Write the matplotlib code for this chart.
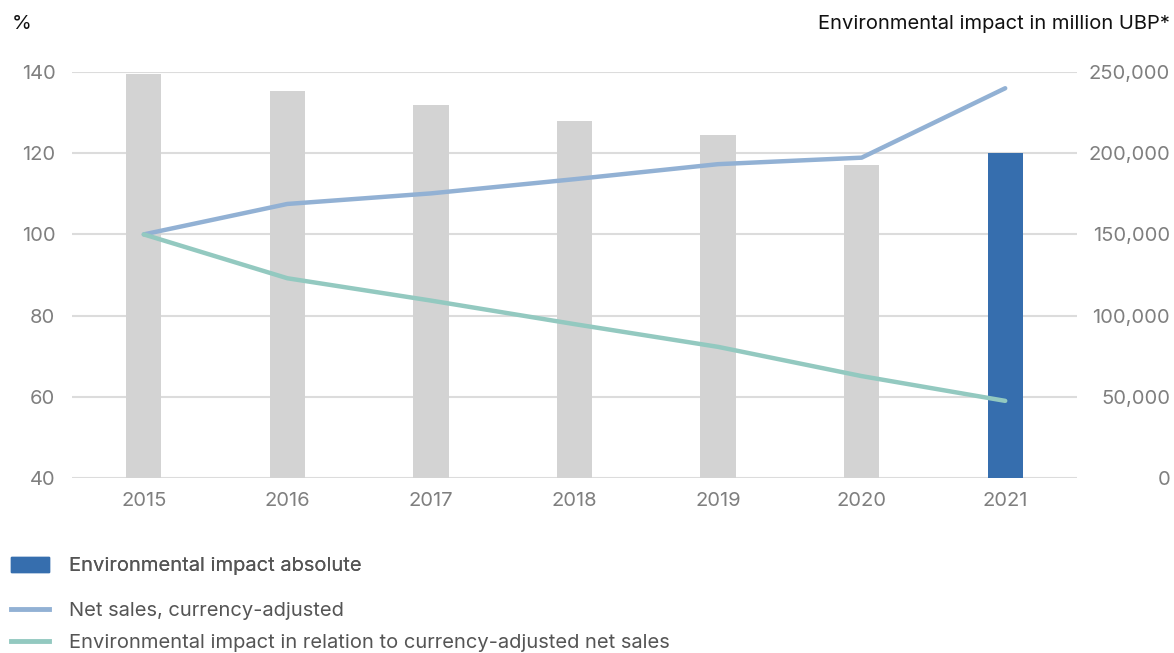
import numpy as np
import matplotlib
matplotlib.use("Agg")
import matplotlib.pyplot as plt
from matplotlib.patches import Patch
from matplotlib.lines import Line2D
from matplotlib.ticker import FuncFormatter

plt.rcParams['font.family'] = ['Inter', 'DejaVu Sans']

# data
years = ['2015', '2016', '2017', '2018', '2019', '2020', '2021']
impact_abs = [248500, 238300, 229700, 219800, 211200, 192700, 200000]   # million UBP
net_sales = [100, 107.5, 110.1, 113.6, 117.3, 118.9, 136.0]             # %
impact_rel = [100, 89.2, 83.7, 77.9, 72.3, 65.1, 59.0]                  # %

grey_bar = '#d3d3d3'
blue_bar = '#366eae'
sales_col = '#92b1d4'
rel_col = '#93c9c0'
tick_col = '#7f7f7f'
grid_col = '#dcdcdc'
fs = 14.5

fig = plt.figure(figsize=(11.74, 6.53), dpi=100)
ax = fig.add_axes([72/1174, 175/653, 1005/1174, 406/653])

x = np.arange(len(years))
colors = [grey_bar] * (len(years) - 1) + [blue_bar]
ax.bar(x, impact_abs, width=0.245, color=colors, zorder=2)
ax.set_ylim(0, 250000)
ax.set_xlim(-0.5, len(years) - 0.5)
ax.set_yticks(np.arange(0, 250001, 50000))
ax.yaxis.set_major_formatter(FuncFormatter(lambda v, p: f'{int(v):,}'))
ax.grid(axis='y', color=grid_col, linewidth=1.5, zorder=0)
ax.set_axisbelow(True)
ax.set_xticks(x)
ax.set_xticklabels(years)

# lines in % on the left scale
ax2 = ax.twinx()
ax2.plot(x, net_sales, color=sales_col, linewidth=3.2, solid_capstyle='round', zorder=3)
ax2.plot(x, impact_rel, color=rel_col, linewidth=3.2, solid_capstyle='round', zorder=3)
ax2.set_ylim(40, 140)
ax2.set_yticks(np.arange(40, 141, 20))

# twinx moves the host ticks left, so swap sides afterwards
ax.yaxis.tick_right()
ax2.yaxis.tick_left()

for a in (ax, ax2):
    for s in a.spines.values():
        s.set_visible(False)
    a.tick_params(length=0, labelsize=fs, labelcolor=tick_col)

ax.tick_params(axis='x', pad=10)
ax.tick_params(axis='y', pad=67)
for lab in ax.get_yticklabels():
    lab.set_horizontalalignment('right')
ax2.tick_params(axis='y', pad=12)

fig.text(12/1174, 1 - 24/653, '%', fontsize=fs, color='#111111', va='center', ha='left')
fig.text(1170/1174, 1 - 24/653, 'Environmental impact in million UBP*', fontsize=fs,
         color='#111111', va='center', ha='right')

# legend
leg1 = fig.legend(handles=[Patch(color=blue_bar, label='Environmental impact absolute')],
                  loc='center left', bbox_to_anchor=(5/1174, 1 - 566/653), frameon=False,
                  fontsize=fs, labelcolor='#555555', handlelength=1.9, handleheight=0.8,
                  handletextpad=1.0, borderaxespad=0, borderpad=0.3)
fig.add_artist(leg1)
fig.legend(handles=[Line2D([], [], color=sales_col, linewidth=3.5, label='Net sales, currency-adjusted'),
                    Line2D([], [], color=rel_col, linewidth=3.5,
                           label='Environmental impact in relation to currency-adjusted net sales')],
           loc='center left', bbox_to_anchor=(5/1174, 1 - 627/653), frameon=False,
           fontsize=fs, labelcolor='#555555', handlelength=1.9, handletextpad=1.0,
           labelspacing=0.65, borderaxespad=0, borderpad=0.3)

fig.savefig('out.png', dpi=100)
